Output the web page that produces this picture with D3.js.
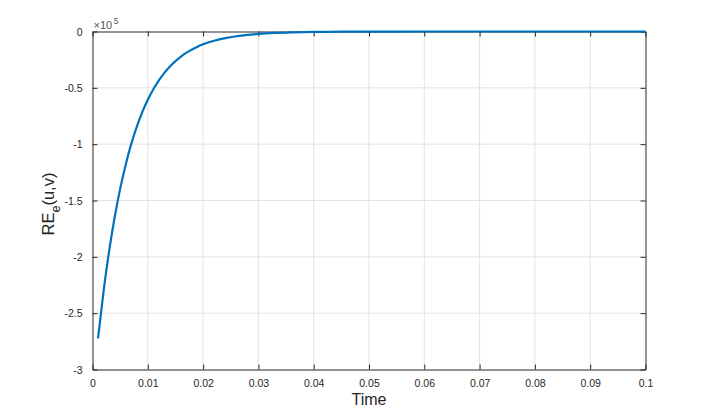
<!DOCTYPE html>
<html><head><meta charset="utf-8">
<script src="https://cdn.jsdelivr.net/npm/d3@7"></script>
<style>body{margin:0;background:#fff}svg{display:block}text{font-family:"Liberation Sans",Arial,sans-serif}</style>
</head><body>
<svg id="c" width="714" height="415"></svg>
<script>
// Time values and RE_e(u,v) values (in units of 1e5)
const times = [0.001,0.002,0.003,0.004,0.005,0.006,0.007,0.008,0.009,0.010,0.011,0.012,0.013,0.014,0.015,0.016,0.017,0.018,0.019,0.020,0.022,0.024,0.026,0.028,0.030,0.033,0.036,0.040,0.045,0.050,0.060,0.070,0.080,0.090,0.100];
const values = [-2.724,-2.306,-1.951,-1.651,-1.397,-1.182,-1.000,-0.846,-0.716,-0.606,-0.513,-0.434,-0.367,-0.311,-0.263,-0.223,-0.188,-0.159,-0.135,-0.114,-0.082,-0.0585,-0.042,-0.030,-0.0215,-0.013,-0.0079,-0.0040,-0.0018,-0.0007,-0.0001,0,0,0,0];
const xTicks = [0,0.01,0.02,0.03,0.04,0.05,0.06,0.07,0.08,0.09,0.1];
const xTickLabels = ["0","0.01","0.02","0.03","0.04","0.05","0.06","0.07","0.08","0.09","0.1"];
const yTicks = [-3,-2.5,-2,-1.5,-1,-0.5,0];
const yTickLabels = ["-3","-2.5","-2","-1.5","-1","-0.5","0"];

const svg = d3.select("#c");
const L=92.5, R=645.5, T=31.5, B=369.5;
const x = d3.scaleLinear().domain([0,0.1]).range([L,R]);
const y = d3.scaleLinear().domain([-3,0]).range([B,T]);
const axCol="#262626", gridCol="#e3e3e3";

// grid
svg.append("g").selectAll("line").data(xTicks.slice(1,-1)).join("line")
  .attr("x1",d=>x(d)).attr("x2",d=>x(d)).attr("y1",T).attr("y2",B)
  .attr("stroke",gridCol).attr("stroke-width",1);
svg.append("g").selectAll("line").data(yTicks.slice(1,-1)).join("line")
  .attr("y1",d=>y(d)).attr("y2",d=>y(d)).attr("x1",L).attr("x2",R)
  .attr("stroke",gridCol).attr("stroke-width",1);

// axes (ticks inward) with labels
const xa = d3.axisBottom(x).tickValues(xTicks).tickSizeInner(-5).tickSizeOuter(0).tickPadding(10)
  .tickFormat((d,i)=>xTickLabels[i]);
const gx = svg.append("g").attr("transform",`translate(0,${B})`).call(xa);
const ya = d3.axisLeft(y).tickValues(yTicks).tickSizeInner(-5).tickSizeOuter(0).tickPadding(10)
  .tickFormat((d,i)=>yTickLabels[i]);
const gy = svg.append("g").attr("transform",`translate(${L},0)`).call(ya);
const gxt = svg.append("g").attr("transform",`translate(0,${T})`).call(d3.axisTop(x).tickValues(xTicks).tickSizeInner(-5).tickSizeOuter(0).tickFormat(""));
const gyr = svg.append("g").attr("transform",`translate(${R},0)`).call(d3.axisRight(y).tickValues(yTicks).tickSizeInner(-5).tickSizeOuter(0).tickFormat(""));
[gx,gy,gxt,gyr].forEach(g=>{
  g.select(".domain").attr("stroke",axCol).attr("stroke-width",1);
  g.selectAll(".tick line").attr("stroke",axCol);
  g.selectAll(".tick text").attr("fill",axCol).style("font-size","10.5px").style("font-family","Liberation Sans, Arial, sans-serif");
});
gy.selectAll(".tick text").attr("dy","0.35em");

// data line
const line = d3.line().x((d,i)=>x(times[i])).y(d=>y(d)).curve(d3.curveMonotoneX);
svg.append("path").datum(values).attr("d",line).attr("fill","none")
  .attr("stroke","#0072BD").attr("stroke-width",2.2).attr("stroke-linejoin","round");

// exponent label
const ex = svg.append("text").attr("x",L+1).attr("y",T-2.5).attr("fill","#555").style("font-size","11px");
ex.append("tspan").text("×10");
ex.append("tspan").attr("dx","1.5").attr("dy","-5").style("font-size","8.5px").text("5");

// axis titles
svg.append("text").attr("x",(L+R)/2).attr("y",405).attr("text-anchor","middle")
  .attr("fill",axCol).style("font-size","16px").text("Time");
const yl = svg.append("text").attr("transform",`translate(54,204) rotate(-90)`).attr("text-anchor","middle")
  .attr("fill",axCol).style("font-size","16.5px");
yl.append("tspan").text("RE");
yl.append("tspan").attr("dy","6").style("font-size","12.5px").text("e");
yl.append("tspan").attr("dy","-6").text("(u,v)");
</script>
</body></html>
